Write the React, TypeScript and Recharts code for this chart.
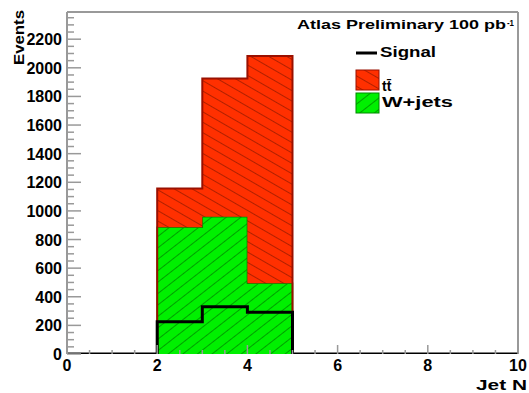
import React from 'react';
import { ComposedChart, Area, Line, XAxis, YAxis, ReferenceLine } from 'recharts';

// bin lower edges (Jet N), each value holds until the next edge
const jetN = [0, 1, 2, 3, 4, 5, 6, 7, 8, 9, 10];
const wJets = [0, 0, 885, 959, 494, 0, 0, 0, 0, 0, 0];
const ttbar = [0, 0, 272, 967, 1588, 0, 0, 0, 0, 0, 0];
const signal = [0, 0, 226, 330, 291, 0, 0, 0, 0, 0, 0];

const xLabels = [0, 2, 4, 6, 8, 10];
const yLabels = [0, 200, 400, 600, 800, 1000, 1200, 1400, 1600, 1800, 2000, 2200];
const xTicks = Array.from({ length: 21 }, (_, i) => i * 0.5);
const yTicks = Array.from({ length: 48 }, (_, i) => i * 50);
const yMax = 2390;

const rows = jetN.map((x, i) => ({ x, wJets: wJets[i], ttbar: ttbar[i], signal: signal[i] }));

const FONT = '"Liberation Sans", Arial, Helvetica, sans-serif';

const YTick = (props: any) => {
  const { x, y, payload } = props;
  const v = payload.value;
  const major = v % 200 === 0;
  return (
    <g>
      <line x1={x} x2={x + (major ? 14 : 7)} y1={y} y2={y} stroke="#999" strokeWidth={1.5} />
      {yLabels.includes(v) && (
        <text x={x - 5} y={y + 6} textAnchor="end" fontFamily={FONT} fontWeight="bold" fontSize={16} fill="#000">
          {v}
        </text>
      )}
    </g>
  );
};

const XTick = (props: any) => {
  const { x, y, payload } = props;
  const v = payload.value;
  const major = xLabels.includes(v);
  return (
    <g>
      <line x1={x} x2={x} y1={y} y2={y - (major ? 9 : 4)} stroke="#999" strokeWidth={1.5} />
      {major && (
        <text x={x} y={y + 17} textAnchor="middle" fontFamily={FONT} fontWeight="bold" fontSize={16} fill="#000">
          {v}
        </text>
      )}
    </g>
  );
};

const Hatches = ({ suffix }: { suffix: string }) => (
  <defs>
    <pattern id={'hatchTT' + suffix} patternUnits="userSpaceOnUse" width={9} height={9} patternTransform="rotate(30)">
      <rect width={9} height={9} fill="#ff3000" />
      <line x1={0} x2={9} y1={4.5} y2={4.5} stroke="#b02000" strokeWidth={1} />
    </pattern>
    <pattern id={'hatchW' + suffix} patternUnits="userSpaceOnUse" width={9} height={9} patternTransform="rotate(-38)">
      <rect width={9} height={9} fill="#00f000" />
      <line x1={0} x2={9} y1={4.5} y2={4.5} stroke="#00a000" strokeWidth={1} />
    </pattern>
  </defs>
);

const txt = { fontFamily: FONT, fontWeight: 'bold' as const, fill: '#000' };

export default function App() {
  return (
    <div style={{ position: 'absolute', left: 0, top: 0, width: 529, height: 393, background: '#fff' }}>
      <ComposedChart width={529} height={393} data={rows} margin={{ top: 12, right: 11, left: 0, bottom: 0 }}>
        <Hatches suffix="" />
        <XAxis
          dataKey="x"
          type="number"
          domain={[0, 10]}
          ticks={xTicks}
          interval={0}
          height={39}
          axisLine={false}
          tickLine={false}
          tickSize={0}
          tickMargin={0}
          tick={<XTick />}
        />
        <YAxis
          type="number"
          domain={[0, yMax]}
          allowDataOverflow
          ticks={yTicks}
          interval={0}
          width={67}
          axisLine={{ stroke: '#999', strokeWidth: 2 }}
          tickLine={false}
          tickSize={0}
          tickMargin={0}
          tick={<YTick />}
        />
        <ReferenceLine y={yMax} stroke="#999" strokeWidth={2} />
        <ReferenceLine x={10} stroke="#999" strokeWidth={2} />
        <Area
          dataKey="wJets"
          stackId="bkg"
          type="stepAfter"
          fill="url(#hatchW)"
          fillOpacity={1}
          stroke="#008a00"
          strokeWidth={1.5}
          isAnimationActive={false}
          dot={false}
          activeDot={false}
        />
        <Area
          dataKey="ttbar"
          stackId="bkg"
          type="stepAfter"
          fill="url(#hatchTT)"
          fillOpacity={1}
          stroke="#9a1000"
          strokeWidth={2}
          isAnimationActive={false}
          dot={false}
          activeDot={false}
        />
        <Line
          dataKey="signal"
          type="stepAfter"
          stroke="#000"
          strokeWidth={3}
          dot={false}
          activeDot={false}
          isAnimationActive={false}
        />
      </ComposedChart>
      <svg width={529} height={393} style={{ position: 'absolute', left: 0, top: 0, pointerEvents: 'none' }}>
        <Hatches suffix="L" />
        <text {...txt} x={24} y={10} fontSize={15} textAnchor="end" transform="rotate(-90 24 10)" textLength={55} lengthAdjust="spacingAndGlyphs">
          Events
        </text>
        <text {...txt} x={476} y={390} fontSize={15} textLength={51} lengthAdjust="spacingAndGlyphs">
          Jet N
        </text>
        <text {...txt} x={297} y={29} fontSize={13.5} textLength={209} lengthAdjust="spacingAndGlyphs">
          Atlas Preliminary 100 pb
        </text>
        <text {...txt} x={507} y={26} fontSize={9} textLength={7} lengthAdjust="spacingAndGlyphs">
          -1
        </text>
        <line x1={356} x2={377} y1={53} y2={53} stroke="#000" strokeWidth={3} />
        <text {...txt} x={380} y={57} fontSize={14} textLength={56} lengthAdjust="spacingAndGlyphs">
          Signal
        </text>
        <rect x={356} y={70} width={23} height={20} fill="url(#hatchTTL)" stroke="#9a1000" strokeWidth={1} />
        <text {...txt} x={382} y={91} fontSize={14}>
          tt̄
        </text>
        <rect x={356} y={93} width={23} height={20} fill="url(#hatchWL)" stroke="#008a00" strokeWidth={1} />
        <text {...txt} x={382} y={107} fontSize={14} textLength={71} lengthAdjust="spacingAndGlyphs">
          W+jets
        </text>
      </svg>
    </div>
  );
}
